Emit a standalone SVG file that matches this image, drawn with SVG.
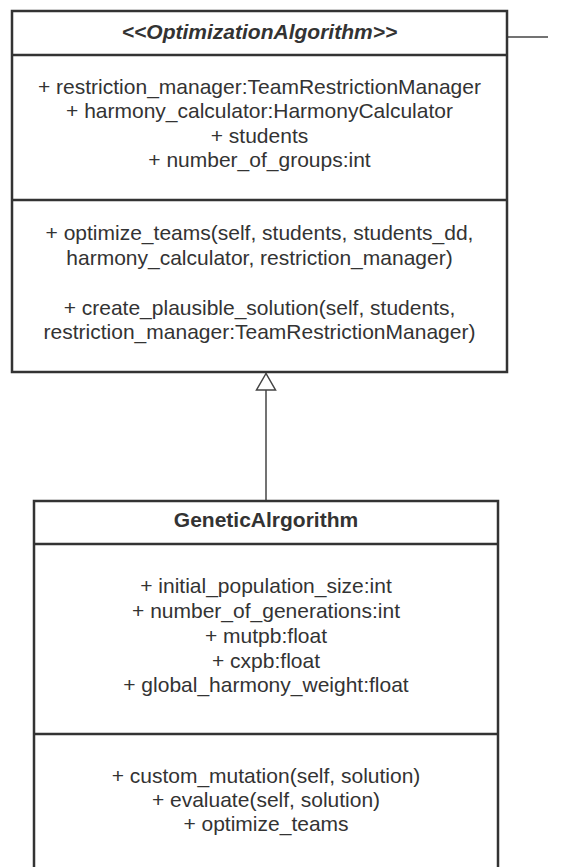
<svg xmlns="http://www.w3.org/2000/svg" width="564" height="867" viewBox="0 0 564 867">
<style>
.box{fill:#fff;stroke:#333;stroke-width:2.5}
.div{stroke:#333;stroke-width:2.5}
.t{font-family:"Liberation Sans",Arial,sans-serif;font-size:21px;fill:#333;text-anchor:middle}
.h{font-weight:bold}
.i{font-style:italic}
.c{stroke:#444;stroke-width:1.5;fill:none}
</style>
<defs>
<marker id="gen" markerWidth="22" markerHeight="22" refX="19" refY="11" orient="auto" markerUnits="userSpaceOnUse" viewBox="0 0 22 22">
<path d="M19 11 L2.5 1.5 L2.5 20.5 Z" fill="#fff" stroke="#444" stroke-width="1.5" stroke-linejoin="miter"/>
</marker>
</defs>
<rect width="564" height="867" fill="#fff"/>
<g id="connectors">
<line class="c" x1="507" y1="37" x2="548" y2="37"/>
<line class="c" x1="266" y1="500" x2="266" y2="373.5" marker-end="url(#gen)"/>
</g>
<g id="OptimizationAlgorithm">
<rect class="box" x="12" y="11" width="495" height="361"/>
<line class="div" x1="12" y1="55" x2="507" y2="55"/>
<line class="div" x1="12" y1="200" x2="507" y2="200"/>
<text class="t h i" x="259.5" y="39">&lt;&lt;OptimizationAlgorithm&gt;&gt;</text>
<text class="t" x="259.5" y="93.5">+ restriction_manager:TeamRestrictionManager</text>
<text class="t" x="259.5" y="118">+ harmony_calculator:HarmonyCalculator</text>
<text class="t" x="259.5" y="142.5">+ students</text>
<text class="t" x="259.5" y="167">+ number_of_groups:int</text>
<text class="t" x="259.5" y="240">+ optimize_teams(self, students, students_dd,</text>
<text class="t" x="259.5" y="264.5">harmony_calculator, restriction_manager)</text>
<text class="t" x="259.5" y="314.5">+ create_plausible_solution(self, students,</text>
<text class="t" x="259.5" y="339">restriction_manager:TeamRestrictionManager)</text>
</g>
<g id="GeneticAlrgorithm">
<rect class="box" x="34" y="501" width="464" height="390"/>
<line class="div" x1="34" y1="544" x2="498" y2="544"/>
<line class="div" x1="34" y1="734" x2="498" y2="734"/>
<text class="t h" x="266" y="527">GeneticAlrgorithm</text>
<text class="t" x="266" y="593">+ initial_population_size:int</text>
<text class="t" x="266" y="618">+ number_of_generations:int</text>
<text class="t" x="266" y="643">+ mutpb:float</text>
<text class="t" x="266" y="667.5">+ cxpb:float</text>
<text class="t" x="266" y="692">+ global_harmony_weight:float</text>
<text class="t" x="266" y="783">+ custom_mutation(self, solution)</text>
<text class="t" x="266" y="807">+ evaluate(self, solution)</text>
<text class="t" x="266" y="831">+ optimize_teams</text>
</g>
</svg>
